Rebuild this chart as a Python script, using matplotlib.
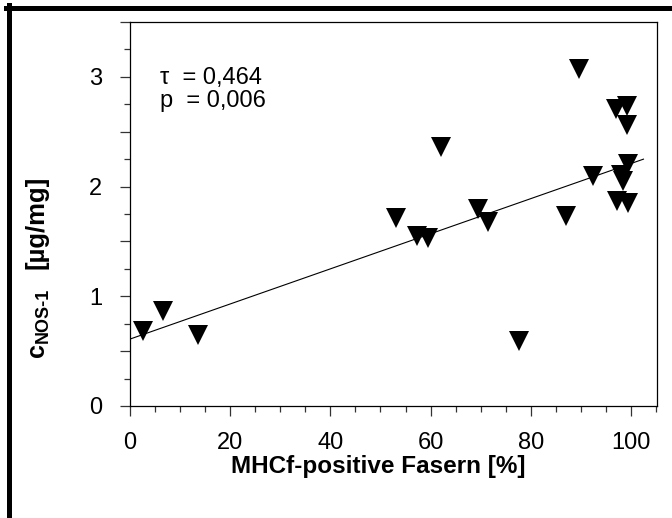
import matplotlib
matplotlib.use("Agg")
import matplotlib.pyplot as plt
from matplotlib.lines import Line2D
from matplotlib.ticker import MultipleLocator

plt.rcParams['font.family'] = ['Liberation Sans', 'DejaVu Sans']

# Data
fibres_pct = [2.5, 6.6, 13.6, 53.1, 57.2, 59.5, 62.1, 69.5, 71.5, 77.6, 87.0,
              89.7, 92.4, 97.1, 99.3, 99.3, 99.5, 98.1, 98.5, 97.3, 99.4]
c_nos1 = [0.68, 0.87, 0.65, 1.71, 1.55, 1.53, 2.36, 1.80, 1.68, 0.59, 1.73,
          3.07, 2.10, 2.71, 2.73, 2.56, 2.21, 2.11, 2.05, 1.87, 1.85]
fit_x = [0.0, 102.5]
fit_y = [0.61, 2.25]
x_tick_vals = [0, 20, 40, 60, 80, 100]
y_tick_vals = [0, 1, 2, 3]
stats_text = ["τ  = 0,464", "p  = 0,006"]

W, H = 672, 518
fig = plt.figure(figsize=(W / 100, H / 100), dpi=100)
ax = fig.add_axes([130 / W, 1 - 406 / H, (657 - 130) / W, (406 - 22) / H])

ax.plot(fit_x, fit_y, color='black', lw=0.8, zorder=2)
ax.plot(fibres_pct, c_nos1, linestyle='none', marker='v', ms=14,
        color='black', markeredgewidth=0, zorder=3)

ax.set_xlim(0, 105.2)
ax.set_ylim(0, 3.5)

ax.xaxis.set_major_locator(MultipleLocator(20))
ax.xaxis.set_minor_locator(MultipleLocator(5))
ax.yaxis.set_major_locator(MultipleLocator(0.5))
ax.yaxis.set_minor_locator(MultipleLocator(0.25))
ax.set_xticks(x_tick_vals)
ax.set_xticklabels([str(v) for v in x_tick_vals])
ytick_pos = [i * 0.5 for i in range(8)]
ax.set_yticks(ytick_pos)
ax.set_yticklabels([str(int(v)) if v in y_tick_vals else '' for v in ytick_pos])

for s in ax.spines.values():
    s.set_linewidth(0.9)
    s.set_color('black')

ax.tick_params(which='both', direction='out', top=False, right=False,
               width=0.9, color='#333333', labelsize=17)
ax.tick_params(which='major', length=7.2)
ax.tick_params(which='minor', length=4.3)
ax.tick_params(axis='x', which='major', pad=11.5)
ax.tick_params(axis='y', which='major', pad=13)

# statistics text
ax.text(160 / W, 1 - 78 / H, stats_text[0], transform=fig.transFigure,
        fontsize=17, ha='left', va='center')
ax.text(160 / W, 1 - 101 / H, stats_text[1], transform=fig.transFigure,
        fontsize=17, ha='left', va='center')

# axis labels
fig.text(378 / W, 1 - 466 / H, "MHCf-positive Fasern [%]", fontsize=17.5,
         fontweight='bold', ha='center', va='center')
fig.text(44 / W, 1 - 357 / H, "c", fontsize=18, fontweight='bold',
         rotation=90, rotation_mode='anchor', ha='left', va='baseline')
fig.text(48 / W, 1 - 343 / H, "NOS-1", fontsize=13, fontweight='bold',
         rotation=90, rotation_mode='anchor', ha='left', va='baseline')
fig.text(44 / W, 1 - 269 / H, "[µg/mg]", fontsize=18.5, fontweight='bold',
         rotation=90, rotation_mode='anchor', ha='left', va='baseline')

# outer frame (cut off on right and bottom)
fig.add_artist(Line2D([6 / W, 1.0], [1 - 7.5 / H, 1 - 7.5 / H],
                      transform=fig.transFigure, color='black', lw=3.6,
                      solid_capstyle='projecting'))
fig.add_artist(Line2D([8.5 / W, 8.5 / W], [0.0, 1 - 5 / H],
                      transform=fig.transFigure, color='black', lw=3.6,
                      solid_capstyle='projecting'))

fig.savefig("out.png", dpi=100, facecolor='white')
